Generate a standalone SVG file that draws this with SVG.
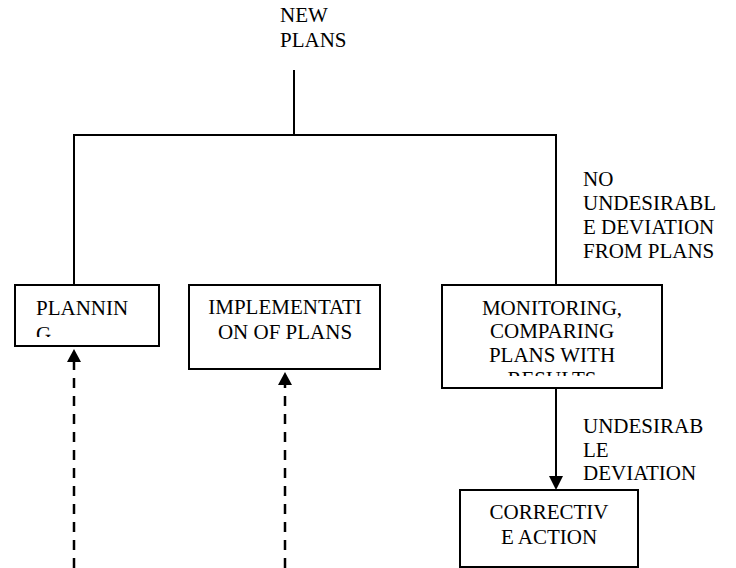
<svg xmlns="http://www.w3.org/2000/svg" width="736" height="568" viewBox="0 0 736 568">
<style>
text{font-family:'Liberation Serif','Times New Roman',serif;font-size:21px;fill:#000}
.box{fill:#fff;stroke:#000;stroke-width:2}
.ln{fill:none;stroke:#000;stroke-width:2}
.dash{fill:none;stroke:#000;stroke-width:2.5;stroke-dasharray:10 8}
.mid{text-anchor:middle}
</style>
<defs>
<clipPath id="cp1"><rect x="16" y="286" width="142" height="51"/></clipPath>
<clipPath id="cp2"><rect x="190" y="286" width="189" height="82"/></clipPath>
<clipPath id="cp3"><rect x="443" y="286" width="218" height="90"/></clipPath>
<clipPath id="cp4"><rect x="461" y="491" width="176" height="75"/></clipPath>
</defs>
<g id="connectors">
<line class="ln" x1="294" y1="70" x2="294" y2="135"/>
<line class="ln" x1="73" y1="135" x2="557" y2="135"/>
<line class="ln" x1="74" y1="135" x2="74" y2="285"/>
<line class="ln" x1="556" y1="135" x2="556" y2="285"/>
<line class="ln" x1="556" y1="388" x2="556" y2="477"/>
<polygon points="549,476 563,476 556,490"/>
<line class="dash" x1="74" y1="568" x2="74" y2="361"/>
<polygon points="67,362 81,362 74,349"/>
<line class="dash" x1="285" y1="568" x2="285" y2="384"/>
<polygon points="278,385 292,385 285,372"/>
</g>
<g id="new-plans">
<text x="280" y="22">NEW</text>
<text x="280" y="47">PLANS</text>
</g>
<g id="no-undesirable">
<text x="583" y="186">NO</text>
<text x="583" y="210">UNDESIRABL</text>
<text x="583" y="234">E DEVIATION</text>
<text x="583" y="258">FROM PLANS</text>
</g>
<g id="planning">
<rect class="box" x="15" y="285" width="144" height="61"/>
<g clip-path="url(#cp1)">
<text x="36" y="315">PLANNIN</text>
<text x="36" y="341">G</text>
</g>
</g>
<g id="implementation">
<rect class="box" x="189" y="285" width="191" height="84"/>
<g clip-path="url(#cp2)">
<text class="mid" x="285" y="314">IMPLEMENTATI</text>
<text class="mid" x="285" y="339">ON OF PLANS</text>
</g>
</g>
<g id="monitoring">
<rect class="box" x="442" y="285" width="220" height="103"/>
<g clip-path="url(#cp3)">
<text class="mid" x="552" y="315">MONITORING,</text>
<text class="mid" x="552" y="338">COMPARING</text>
<text class="mid" x="552" y="362">PLANS WITH</text>
<text class="mid" x="552" y="386">RESULTS</text>
</g>
</g>
<g id="undesirable">
<text x="583" y="433">UNDESIRAB</text>
<text x="583" y="457">LE</text>
<text x="583" y="480">DEVIATION</text>
</g>
<g id="corrective">
<rect class="box" x="460" y="490" width="178" height="77"/>
<g clip-path="url(#cp4)">
<text class="mid" x="549" y="519">CORRECTIV</text>
<text class="mid" x="549" y="544">E ACTION</text>
</g>
</g>
</svg>
